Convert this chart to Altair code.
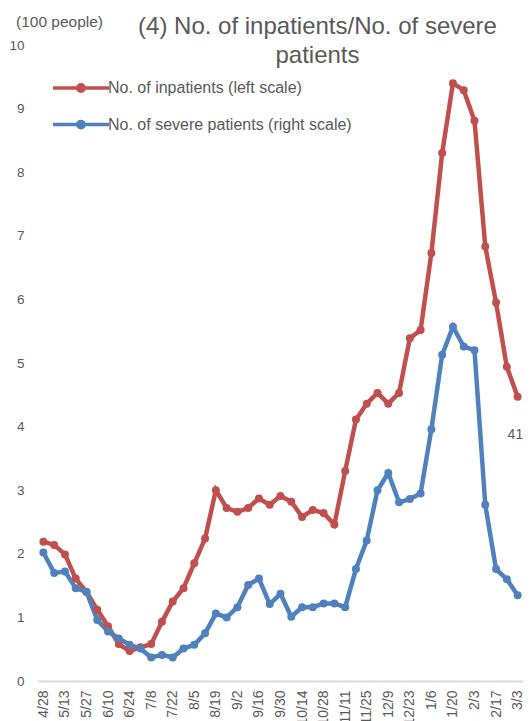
import altair as alt
import pandas as pd

dates = ["4/28", "5/6", "5/13", "5/20", "5/27", "6/3", "6/10", "6/17", "6/24", "7/1",
         "7/8", "7/15", "7/22", "7/29", "8/5", "8/12", "8/19", "8/26", "9/2", "9/9",
         "9/16", "9/23", "9/30", "10/7", "10/14", "10/21", "10/28", "11/4", "11/11", "11/18",
         "11/25", "12/2", "12/9", "12/16", "12/23", "12/30", "1/6", "1/13", "1/20", "1/27",
         "2/3", "2/10", "2/17", "2/24", "3/3"]
label_dates = dates[::2]

inpatients = [2.19, 2.14, 1.99, 1.61, 1.40, 1.12, 0.86, 0.58, 0.47, 0.53,
              0.58, 0.93, 1.25, 1.46, 1.85, 2.24, 3.00, 2.72, 2.66, 2.72,
              2.87, 2.77, 2.91, 2.82, 2.58, 2.69, 2.64, 2.46, 3.30, 4.11,
              4.36, 4.53, 4.36, 4.53, 5.39, 5.52, 6.73, 8.30, 9.40, 9.29,
              8.81, 6.83, 5.95, 4.94, 4.47]
severe = [2.02, 1.70, 1.72, 1.46, 1.40, 0.96, 0.78, 0.67, 0.57, 0.51,
          0.37, 0.41, 0.37, 0.51, 0.57, 0.75, 1.06, 1.00, 1.16, 1.51,
          1.61, 1.21, 1.37, 1.01, 1.16, 1.16, 1.22, 1.22, 1.16, 1.76,
          2.21, 3.00, 3.27, 2.81, 2.86, 2.95, 3.96, 5.13, 5.57, 5.26,
          5.20, 2.77, 1.76, 1.60, 1.35]

series_names = ["No. of inpatients (left scale)", "No. of severe patients (right scale)"]
series_colors = ["#C0504D", "#4F81BD"]

annot_dates = ["3/3"]
annot_values = [3.87]
annot_labels = ["41"]

df = pd.DataFrame({
    "date": dates + dates,
    "value": inpatients + severe,
    "series": [series_names[0]] * len(dates) + [series_names[1]] * len(dates),
})
annot = pd.DataFrame({"date": annot_dates, "value": annot_values, "label": annot_labels})

FONT = "Liberation Sans"
GREY = "#595959"

x_scale = alt.Scale(type="point", padding=0.5, domain=dates)
x_enc = alt.X("date:N", sort=dates, scale=x_scale,
              axis=alt.Axis(values=label_dates, labelAngle=270, title=None,
                            ticks=False, grid=False, domainColor="#d9d9d9",
                            domainWidth=2, labelPadding=9, labelFontSize=14,
                            labelColor=GREY, labelFont=FONT))
y_enc = alt.Y("value:Q", scale=alt.Scale(domain=[0, 10], nice=False),
              axis=alt.Axis(values=list(range(0, 11)), format="d", grid=False,
                            domain=False, ticks=False, labelPadding=14,
                            labelFontSize=13.5, labelColor=GREY, labelFont=FONT,
                            title="(100 people)", titleAngle=0, titleX=21, titleY=-24,
                            titleAlign="center", titleBaseline="middle",
                            titleFontWeight="normal", titleFontSize=15.5,
                            titleColor=GREY, titleFont=FONT))

legend_symbol = "M-2,0L2,0M0.23,0A0.23,0.23,0,1,1,-0.23,0A0.23,0.23,0,1,1,0.23,0Z"

lines = alt.Chart(df).mark_line(
    strokeWidth=4.5,
    point=alt.OverlayMarkDef(filled=True, size=64)
).encode(
    x=x_enc,
    y=y_enc,
    color=alt.Color("series:N",
                    scale=alt.Scale(domain=series_names, range=series_colors),
                    legend=alt.Legend(title=None, orient="none", legendX=27, legendY=27,
                                      symbolType=legend_symbol, symbolSize=784,
                                      symbolStrokeWidth=3.5, labelOffset=11,
                                      labelFontSize=16, labelColor=GREY, labelFont=FONT,
                                      labelLimit=400, rowPadding=9.6)),
)

texts = alt.Chart(annot).mark_text(align="left", dx=-10, fontSize=14, color=GREY,
                                   font=FONT).encode(
    x=alt.X("date:N", sort=dates, scale=x_scale),
    y=alt.Y("value:Q"),
    text="label:N",
)

chart = alt.layer(lines, texts).properties(
    width=485, height=636,
    autosize=alt.AutoSizeParams(type="none"),
    padding={"left": 30, "top": 37, "right": 0, "bottom": 40},
    title=alt.TitleParams(text=["(4) No. of inpatients/No. of severe", "patients"],
                          anchor="middle", frame="group", fontSize=24, font=FONT,
                          fontWeight="normal", color=GREY, dx=37, dy=58, lineHeight=29),
).configure_view(stroke=None)

chart.save("out.html", embed_options={"renderer": "svg", "actions": False})
